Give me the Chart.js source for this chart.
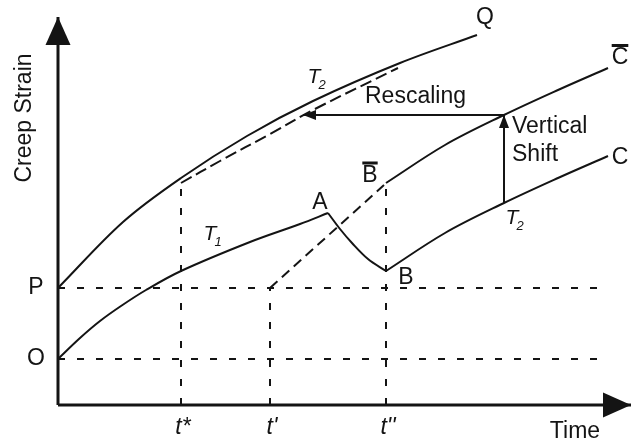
<!DOCTYPE html>
<html>
<head>
<meta charset="utf-8">
<script src="https://cdn.jsdelivr.net/npm/chart.js@4.4.0/dist/chart.umd.min.js"></script>
<style>
  html, body { margin: 0; padding: 0; background: #fff; }
  canvas { display: block; }
</style>
</head>
<body>
<canvas id="grafico-fluencia" width="638" height="444"></canvas>
<script>
// Marcas del eje de tiempo
const marcasTiempo = ["t*", "t'", "t''"];
const valoresTiempo = [12.3, 21.2, 32.8];

// Niveles del eje de deformación
const marcasDeformacion = ['O', 'P'];
const valoresDeformacion = [4.6, 11.7];

// Ejes (el último punto es la punta de la flecha)
const ejeX = [[0, 0], [57.3, 0]];
const ejeY = [[0, 0], [0, 38.8]];

// Curva P -> Q a temperatura T2
const curvaPQ = [[0, 11.7], [6.5, 18.3], [12.3, 22.7], [18.9, 26.9], [25.5, 30.4], [34.2, 34.2], [41.9, 37.0]];
// Tramo de T2 desplazado (discontinua) desde t*
const curvaT2Desplazada = [[12.3, 22.2], [16.2, 24.4], [21.2, 27.1], [25.5, 29.5], [34.0, 33.7]];
// Curva O -> A a temperatura T1
const curvaOA = [[0, 4.6], [2.2, 6.7], [4.2, 8.4], [6.3, 9.9], [8.8, 11.5], [12.3, 13.4], [19.2, 16.3], [24.2, 18.1], [27.0, 19.2]];
// Recuperación A -> B
const curvaAB = [[27.0, 19.2], [28.2, 17.6], [29.4, 16.2], [31.0, 14.6], [32.8, 13.4]];
// B -> C a temperatura T2
const curvaBC = [[32.8, 13.4], [38.7, 17.2], [44.6, 20.2], [50.0, 22.7], [55.0, 24.9]];
// B barra -> C barra
const curvaBCBarra = [[32.8, 22.2], [38.7, 26.0], [44.6, 29.0], [50.0, 31.5], [55.0, 33.7]];
// Recta discontinua desde t' hasta B barra
const rectaPrima = [[21.2, 11.7], [32.6, 22.0]];

// Flechas de desplazamiento vertical y reescalado
const flechaVertical = [[44.6, 20.2], [44.6, 29.0]];
const flechaReescalado = [[44.6, 29.0], [24.5, 29.0]];

// Líneas auxiliares punteadas
const guiaO = [[0, 4.6], [54.2, 4.6]];
const guiaP = [[0, 11.7], [54.2, 11.7]];
const guiaTEstrella = [[12.3, 0], [12.3, 22.2]];
const guiaTPrima = [[21.2, 0], [21.2, 11.7]];
const guiaTDoble = [[32.8, 0], [32.8, 22.0]];

const NEGRO = '#141414';
const FUENTE = "'Liberation Sans', Arial, Helvetica, sans-serif";

function serie(puntos, opciones) {
    return Object.assign({
        data: puntos.map(p => ({ x: p[0], y: p[1] })),
        borderColor: NEGRO,
        borderWidth: 2,
        pointRadius: 0,
        fill: false,
        tension: 0
    }, opciones);
}

const curva = { tension: 0.35 };
const guia = { borderDash: [7, 12], borderWidth: 2 };

// Textos sueltos sobre el diagrama
const textos = [
    { texto: 'Q', x: 42.7, y: 38.7 },
    { texto: 'C', x: 56.2, y: 34.7, barra: true },
    { texto: 'C', x: 56.2, y: 24.7 },
    { texto: 'B', x: 31.2, y: 22.95, barra: true },
    { texto: 'A', x: 26.2, y: 20.2 },
    { texto: 'B', x: 34.8, y: 12.7 },
    { texto: 'Rescaling', x: 30.7, y: 30.8, alinear: 'left' },
    { texto: 'Vertical', x: 45.4, y: 27.8, alinear: 'left' },
    { texto: 'Shift', x: 45.4, y: 25.0, alinear: 'left' },
    { texto: 'Time', x: 51.7, y: -2.7 }
];

// Etiquetas de temperatura con subíndice
const temperaturas = [
    { sub: '1', x: 15.2, y: 17.1 },
    { sub: '2', x: 25.6, y: 32.8 },
    { sub: '2', x: 45.4, y: 18.7 }
];

const pluginAnotaciones = {
    id: 'anotaciones',
    afterDatasetsDraw(chart) {
        const ctx = chart.ctx;
        const px = v => chart.scales.x.getPixelForValue(v);
        const py = v => chart.scales.y.getPixelForValue(v);

        ctx.save();
        ctx.fillStyle = NEGRO;
        ctx.strokeStyle = NEGRO;

        // Puntas de flecha al final de cada línea
        const flechas = [
            { linea: ejeX, largo: 28, ancho: 25 },
            { linea: ejeY, largo: 28, ancho: 25 },
            { linea: flechaVertical, largo: 13, ancho: 10 },
            { linea: flechaReescalado, largo: 13, ancho: 10 }
        ];
        flechas.forEach(f => {
            const a = f.linea[f.linea.length - 2];
            const b = f.linea[f.linea.length - 1];
            const x1 = px(a[0]), y1 = py(a[1]);
            const x2 = px(b[0]), y2 = py(b[1]);
            const ang = Math.atan2(y2 - y1, x2 - x1);
            ctx.save();
            ctx.translate(x2, y2);
            ctx.rotate(ang);
            ctx.beginPath();
            ctx.moveTo(0, 0);
            ctx.lineTo(-f.largo, -f.ancho / 2);
            ctx.lineTo(-f.largo, f.ancho / 2);
            ctx.closePath();
            ctx.fill();
            ctx.restore();
        });

        ctx.textAlign = 'center';
        ctx.textBaseline = 'middle';

        // Título del eje vertical
        ctx.save();
        ctx.font = '23px ' + FUENTE;
        ctx.translate(px(-3.3), py(28.7));
        ctx.rotate(-Math.PI / 2);
        ctx.fillText('Creep Strain', 0, 0);
        ctx.restore();

        // Marcas de los ejes
        ctx.font = '23px ' + FUENTE;
        valoresDeformacion.forEach((v, i) => {
            ctx.fillText(marcasDeformacion[i], px(0) - 22, py(v));
        });
        ctx.font = 'italic 23px ' + FUENTE;
        valoresTiempo.forEach((v, i) => {
            ctx.fillText(marcasTiempo[i], px(v) + 2, py(0) + 23);
        });

        // Textos sueltos
        ctx.font = '23px ' + FUENTE;
        textos.forEach(t => {
            ctx.textAlign = t.alinear || 'center';
            const x = px(t.x), y = py(t.y);
            ctx.fillText(t.texto, x, y);
            if (t.barra) {
                const w = ctx.measureText(t.texto).width;
                ctx.fillRect(x - w / 2, y - 14, w, 3);
            }
        });

        // T1, T2
        ctx.textAlign = 'center';
        temperaturas.forEach(t => {
            const x = px(t.x), y = py(t.y);
            ctx.font = 'italic 21px ' + FUENTE;
            ctx.fillText('T', x, y);
            ctx.font = 'italic 13px ' + FUENTE;
            ctx.fillText(t.sub, x + 8, y + 8);
        });

        ctx.restore();
    }
};

new Chart(document.getElementById('grafico-fluencia').getContext('2d'), {
    type: 'line',
    data: {
        datasets: [
            serie(guiaO, guia),
            serie(guiaP, guia),
            serie(guiaTEstrella, guia),
            serie(guiaTPrima, guia),
            serie(guiaTDoble, guia),
            serie(rectaPrima, { borderDash: [10, 6] }),
            serie(curvaT2Desplazada, Object.assign({ borderDash: [12, 5] }, curva)),
            serie(curvaPQ, curva),
            serie(curvaOA, curva),
            serie(curvaAB, curva),
            serie(curvaBC, curva),
            serie(curvaBCBarra, curva),
            serie(flechaVertical, {}),
            serie(flechaReescalado, {}),
            serie(ejeX, { borderWidth: 3 }),
            serie(ejeY, { borderWidth: 3 })
        ]
    },
    options: {
        responsive: false,
        animation: false,
        events: [],
        layout: { padding: 0 },
        plugins: {
            legend: { display: false },
            tooltip: { enabled: false }
        },
        scales: {
            x: { type: 'linear', min: -5.8, max: 58.0, display: false },
            y: { type: 'linear', min: -3.9, max: 40.5, display: false }
        }
    },
    plugins: [pluginAnotaciones]
});
</script>
</body>
</html>
